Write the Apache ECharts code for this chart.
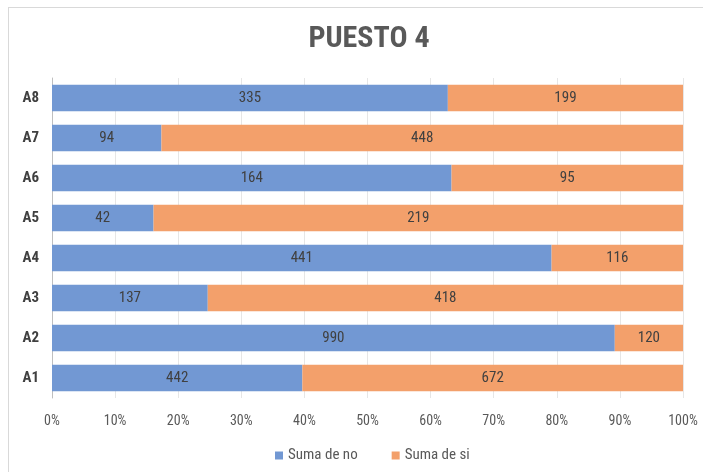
<!DOCTYPE html>
<html>
<head>
<meta charset="utf-8">
<script src="https://cdn.jsdelivr.net/npm/echarts@6/dist/echarts.min.js"></script>
<style>
  html, body { margin: 0; padding: 0; background: #fff; }
  #frame { position: absolute; left: 8px; top: 7px; width: 720px; height: 500px; border: 1px solid #d9d9d9; box-sizing: border-box; }
  #chart { position: absolute; left: 0; top: 0; width: 703px; height: 472px; }
</style>
</head>
<body>
<div id="frame"></div>
<div id="chart"></div>
<script>
// Categories bottom to top
const categories = ['A1', 'A2', 'A3', 'A4', 'A5', 'A6', 'A7', 'A8'];
const sumaNo = [442, 990, 137, 441, 42, 164, 94, 335];
const sumaSi = [672, 120, 418, 116, 219, 95, 448, 199];
const xTicks = [0, 10, 20, 30, 40, 50, 60, 70, 80, 90, 100];

// 100% stacked shares, labelled with the raw counts
const share = (arr, i) => arr[i] / (sumaNo[i] + sumaSi[i]) * 100;
const noData = sumaNo.map((v, i) => ({ value: share(sumaNo, i), raw: v }));
const siData = sumaSi.map((v, i) => ({ value: share(sumaSi, i), raw: v }));

const font = '"Liberation Sans Narrow", "Roboto Condensed", "Liberation Sans", sans-serif';

const chart = echarts.init(document.getElementById('chart'));
chart.setOption({
  animation: false,
  title: {
    text: 'PUESTO 4',
    left: 364,
    textAlign: 'center',
    top: 19,
    textStyle: { fontFamily: font, fontSize: 30, fontWeight: 'bold', color: '#595959' }
  },
  legend: {
    bottom: 4,
    left: 270,
    itemWidth: 8,
    itemHeight: 8,
    itemGap: 34,
    icon: 'rect',
    textStyle: { fontFamily: font, fontSize: 15, color: '#595959' },
    data: ['Suma de no', 'Suma de si']
  },
  grid: { left: 52, right: 20, top: 78, bottom: 74 },
  xAxis: {
    type: 'value',
    min: 0,
    max: 100,
    interval: 10,
    axisLine: { show: false },
    axisTick: { show: false },
    splitLine: { lineStyle: { color: '#e6e6e6' } },
    axisLabel: {
      fontFamily: font, fontSize: 14, color: '#595959', margin: 16,
      formatter: v => xTicks.includes(v) ? v + '%' : ''
    }
  },
  yAxis: {
    type: 'category',
    data: categories,
    axisLine: { lineStyle: { color: '#bfbfbf' } },
    axisTick: { show: false },
    axisLabel: { fontFamily: font, fontSize: 15, fontWeight: 'bold', color: '#404040', margin: 13 }
  },
  series: [
    {
      name: 'Suma de no',
      type: 'bar',
      stack: 'total',
      barCategoryGap: '34%',
      itemStyle: { color: '#7298d3' },
      label: {
        show: true, position: 'inside',
        fontFamily: font, fontSize: 15, color: '#404040',
        formatter: p => p.data.raw
      },
      data: noData
    },
    {
      name: 'Suma de si',
      type: 'bar',
      stack: 'total',
      barCategoryGap: '34%',
      itemStyle: { color: '#f3a06b' },
      label: {
        show: true, position: 'inside',
        fontFamily: font, fontSize: 15, color: '#404040',
        formatter: p => p.data.raw
      },
      data: siData
    }
  ]
});
</script>
</body>
</html>
